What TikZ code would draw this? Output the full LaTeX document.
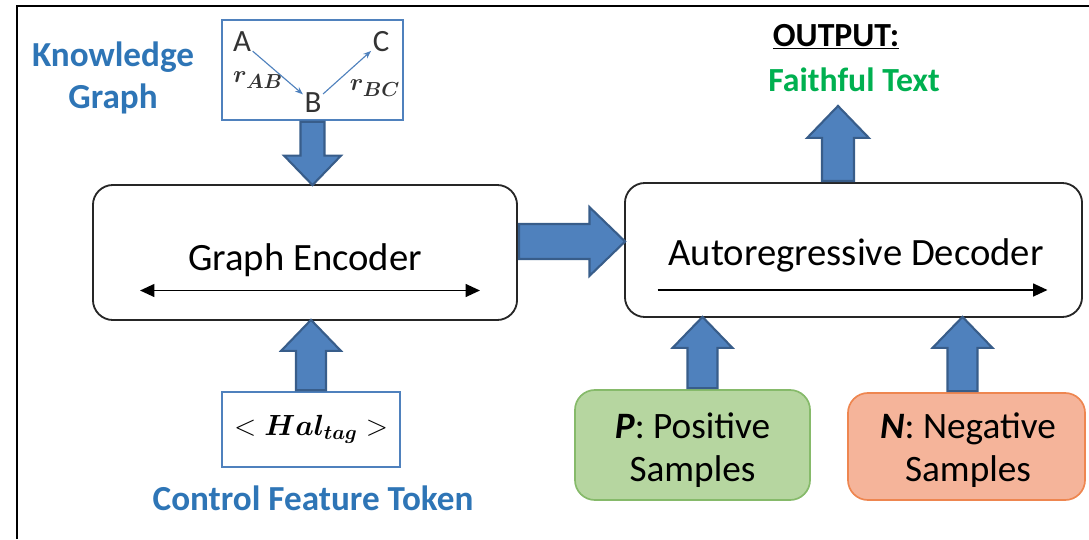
\documentclass[tikz,border=0pt]{standalone}
\usepackage{fontspec}
\setmainfont{Carlito}
\usepackage{bm}
\usetikzlibrary{arrows.meta,shapes.arrows,calc,positioning}

\definecolor{kgblue}{HTML}{2E75B6}
\definecolor{arrowfill}{HTML}{4F81BD}
\definecolor{arrowedge}{HTML}{385D8A}
\definecolor{okgreen}{HTML}{00B050}
\definecolor{posfill}{HTML}{B6D6A0}
\definecolor{posedge}{HTML}{86BA6A}
\definecolor{negfill}{HTML}{F5B49A}
\definecolor{negedge}{HTML}{EE8650}

\tikzset{
  fatarrow/.style={single arrow, draw=arrowedge, fill=arrowfill, line width=1.5pt,
    inner xsep=0pt, inner ysep=9.9pt, single arrow head extend=10.6pt,
    single arrow tip angle=88},
}

% block arrow from #2 to #3
\newcommand{\fatarrow}[3][]{%
  \path let \p1=($(#3)-(#2)$), \n1={veclen(\x1,\y1)}, \n2={atan2(\y1,\x1)} in
    node[fatarrow, #1, minimum height=\n1, rotate=\n2, anchor=tail] at (#2) {};
}

\begin{document}
\begin{tikzpicture}[x=0.025cm, y=-0.025cm,
  coder/.style={draw=black!85, line width=1.3pt, rounded corners=5mm},
  codertext/.style={font=\fontsize{27.5}{32}\selectfont},
  tagbox/.style={draw=arrowfill, line width=1pt},
  sample/.style={rounded corners=5mm, line width=1.2pt},
  sampletext/.style={align=center, font=\fontsize{26.5}{30.5}\selectfont},
  kgnode/.style={inner sep=1pt, font=\fontsize{22}{24}\selectfont, text=black!80},
  kgedge/.style={draw=arrowfill, line width=0.8pt, -{Stealth[length=2mm]}},
  bluelbl/.style={text=kgblue, font=\bfseries\fontsize{25}{30}\selectfont, align=center},
  seqarrow/.style={line width=1.4pt, -{Triangle[length=3.6mm,width=3.2mm]}},
  seqboth/.style={line width=1.4pt, {Triangle[length=3.6mm,width=3.2mm]}-{Triangle[length=3.6mm,width=3.2mm]}}]

\useasboundingbox (0,0) rectangle (1089,539);
\draw[line width=1.4pt] (17,539) -- (17,6) -- (1089,6);

% knowledge graph
\node[tagbox, minimum width=45.25mm, minimum height=25mm] (kg) at (312.5,70) {};
\node[kgnode] (a) at (242,42) {A};
\node[kgnode] (b) at (313,103) {B};
\node[kgnode] (c) at (381,42) {C};
\node[font=\fontsize{19}{21}\selectfont, text=black!80] (rab) at (258,80) {$\bm{r_{AB}}$};
\node[font=\fontsize{19}{21}\selectfont, text=black!80] (rbc) at (375,88) {$\bm{r_{BC}}$};
\draw[kgedge] (a) -- (b);
\draw[kgedge] (b) -- (c);
\node[bluelbl] (kglbl) at (113,78) {Knowledge\\Graph};

% encoder and decoder
\node[coder, minimum width=106mm, minimum height=33.75mm] (enc) at (305,252.5) {};
\node[codertext] (enctxt) at (305,260) {Graph Encoder};
\node[coder, minimum width=114.25mm, minimum height=33.5mm] (dec) at (853.5,250) {};
\node[codertext] (dectxt) at (856,255) {Autoregressive Decoder};
\coordinate (encL) at ($(enc.center)+(-165,38)$);
\coordinate (encR) at ($(enc.center)+(175,38)$);
\coordinate (decL) at ($(dec.center)+(-196,40)$);
\coordinate (decR) at ($(dec.center)+(194,40)$);
\draw[seqboth] (encL) -- (encR);
\draw[seqarrow] (decL) -- (decR);

% control token
\node[tagbox, minimum width=44.5mm, minimum height=18.75mm,
  font=\fontsize{21}{24}\selectfont] (ctrl) at (311,429.5) {$<\bm{Hal_{tag}}>$};
\node[bluelbl] (ctrllbl) at (313,498) {Control Feature Token};

% output
\node[font=\bfseries\fontsize{24}{28}\selectfont] (outlbl) at (836,37) {\underline{OUTPUT:}};
\node[font=\bfseries\fontsize{24}{28}\selectfont, text=okgreen] (faith) at (854,80) {Faithful Text};
\coordinate (outtip) at (838,107);

% samples
\node[sample, draw=posedge, fill=posfill, minimum width=58.75mm, minimum height=27.5mm]
  (pos) at (692.5,445) {};
\node[sampletext] (postxt) at (692.5,450) {\textbf{\textit{P}}: Positive\\Samples};
\node[sample, draw=negedge, fill=negfill, minimum width=59.25mm, minimum height=26.75mm]
  (neg) at (966.5,446.5) {};
\node[sampletext] (negtxt) at (968,450) {\textbf{\textit{N}}: Negative\\Samples};

% block arrows
\fatarrow[inner ysep=7.8pt, single arrow head extend=11.7pt]{kg.south}{kg.south |- enc.north}
\fatarrow{ctrl.north}{ctrl.north |- enc.south}
\coordinate (encout) at ($(enc.east)+(0,-11)$);
\fatarrow[inner ysep=11.7pt, single arrow head extend=12pt]{encout}{encout -| dec.west}
\fatarrow[inner ysep=10.6pt]{outtip |- dec.north}{outtip}
\coordinate (pout) at ($(pos.north)+(10,0)$);
\fatarrow{pout}{pout |- dec.south}
\coordinate (nout) at ($(neg.north)+(-4,0)$);
\fatarrow{nout}{nout |- dec.south}
\end{tikzpicture}
\end{document}
